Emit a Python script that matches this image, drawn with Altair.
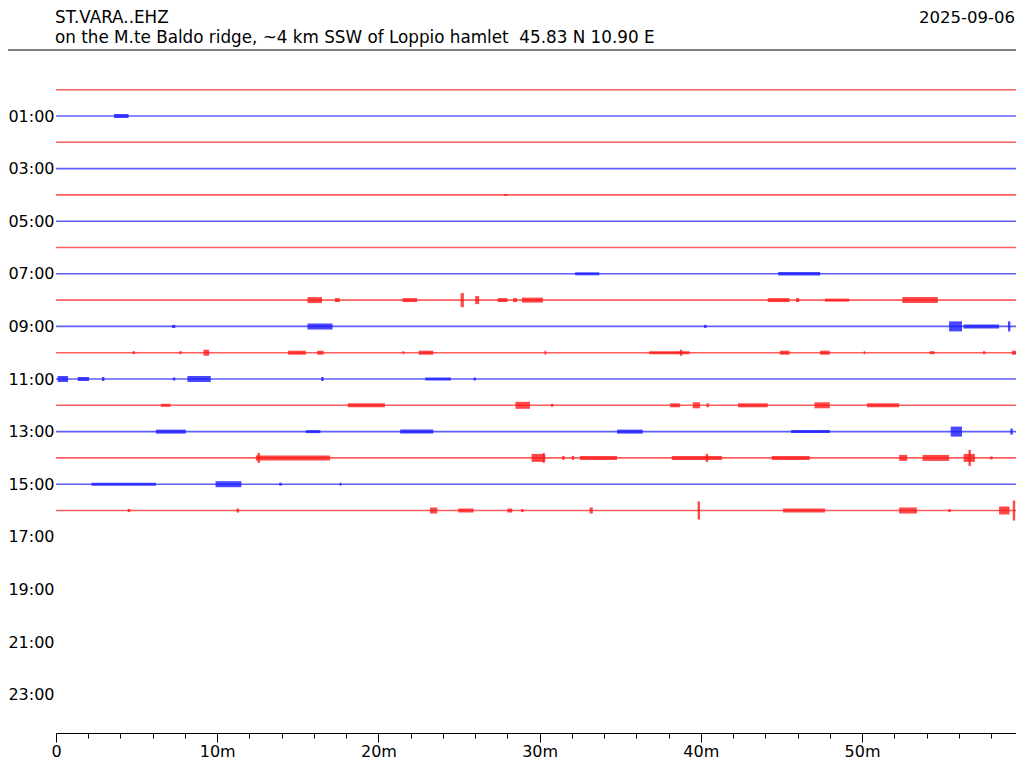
import altair as alt
import pandas as pd

# ---- texts ----
station = "ST.VARA..EHZ"
location = "on the M.te Baldo ridge, ~4 km SSW of Loppio hamlet \u00a045.83 N 10.90 E"
date_label = "2025-09-06"

# ---- axes ----
trace_hours = list(range(17))               # rows 00:00 .. 16:00 carry data
y_label_hours = list(range(1, 24, 2))       # 01:00, 03:00, ... 23:00
x_ticks = list(range(0, 60, 2))             # minor ticks every 2 min, labels every 10

# ---- bursts: (start minute, end minute, half amplitude) ----
row01 = [(3.6, 4.5, 2)]
row04 = [(27.8, 28.0, 1)]
row07 = [(32.2, 33.7, 1.5), (44.8, 47.4, 1.8)]
row08 = [(15.6, 16.5, 3), (17.3, 17.6, 2), (21.5, 22.4, 2), (25.1, 25.3, 7),
         (26.0, 26.25, 4), (27.4, 28.0, 2), (28.35, 28.6, 2), (28.9, 30.2, 2.5),
         (44.15, 45.5, 2), (45.9, 46.1, 2), (47.7, 49.2, 1.5), (52.5, 54.7, 3)]
row09 = [(7.2, 7.4, 1.5), (15.6, 17.15, 3), (40.2, 40.35, 1.5), (55.4, 56.2, 5),
         (56.3, 58.5, 2), (59.05, 59.2, 5)]
row10 = [(4.75, 4.9, 1.5), (7.65, 7.8, 1.5), (9.15, 9.5, 3), (14.4, 15.5, 2),
         (16.2, 16.6, 2), (21.5, 21.6, 1.5), (22.5, 23.4, 2), (30.3, 30.4, 2),
         (36.8, 39.3, 1.5), (38.7, 38.85, 3), (44.9, 45.5, 2), (47.4, 48.0, 2),
         (50.1, 50.2, 1.5), (54.2, 54.5, 1.5), (57.5, 57.65, 1.5), (59.3, 59.55, 2)]
row11 = [(0.1, 0.75, 3), (1.35, 2.05, 2), (2.85, 3.0, 2), (7.25, 7.4, 1.5),
         (8.15, 9.6, 3), (16.45, 16.6, 2), (22.9, 24.5, 1.5), (25.9, 26.05, 1.5)]
row12 = [(6.5, 7.1, 1.5), (18.1, 20.4, 2), (28.5, 29.4, 3.5), (30.7, 30.85, 1.5),
         (38.1, 38.7, 2), (39.5, 39.95, 3), (40.35, 40.5, 2), (42.3, 44.15, 2),
         (47.05, 48.0, 3), (50.3, 52.3, 2)]
row13 = [(6.2, 8.05, 2), (15.5, 16.4, 1.5), (21.35, 23.4, 2), (34.8, 36.4, 2),
         (45.6, 48.0, 1.5), (55.5, 56.2, 5), (59.2, 59.35, 3)]
row14 = [(12.4, 17.0, 2.5), (12.5, 12.65, 5), (29.5, 30.35, 4), (30.2, 30.3, 5),
         (31.4, 31.55, 2), (32.0, 32.15, 2), (32.5, 34.8, 2), (38.2, 41.3, 2),
         (40.3, 40.45, 4), (44.4, 46.75, 2), (52.3, 52.8, 3), (53.75, 55.4, 3),
         (56.3, 57.0, 4), (56.6, 56.75, 8), (57.95, 58.1, 1.5)]
row15 = [(2.2, 6.2, 1.5), (9.9, 11.5, 3), (13.85, 14.0, 1.5), (17.6, 17.7, 1.5)]
row16 = [(4.45, 4.6, 1.5), (11.2, 11.35, 2), (23.2, 23.65, 3), (24.95, 25.9, 2),
         (28.0, 28.3, 2), (28.85, 29.0, 1.5), (33.1, 33.3, 3), (39.8, 39.95, 9),
         (45.1, 47.7, 2), (52.3, 53.4, 3), (55.35, 55.5, 1.5), (58.5, 59.15, 4),
         (59.35, 59.5, 10)]

rows = {1: row01, 4: row04, 7: row07, 8: row08, 9: row09, 10: row10, 11: row11,
        12: row12, 13: row13, 14: row14, 15: row15, 16: row16}

ROW_UNITS = 26.3  # amplitude units per hour-row
X_END = 59.55     # visible end of the time axis (minutes)

base_df = pd.DataFrame({
    "hour": trace_hours,
    "t0": [0.0] * len(trace_hours),
    "t1": [X_END] * len(trace_hours),
    "parity": ["even" if h % 2 == 0 else "odd" for h in trace_hours],
})

recs = []
for h, evs in rows.items():
    for (a, b, amp) in evs:
        recs.append({"hour": h, "t0": a, "t1": b,
                     "ylo": h - amp / ROW_UNITS, "yhi": h + amp / ROW_UNITS,
                     "parity": "even" if h % 2 == 0 else "odd"})
burst_df = pd.DataFrame(recs)

FONT = "DejaVu Sans"
W, H = 960, 683
PAD_L, PAD_T, PAD_B = 48, 42, 27

xscale = alt.Scale(domain=[0, X_END], nice=False, zero=False)
yscale = alt.Scale(domain=[-1.51, 24.46], nice=False, zero=False, reverse=True)
cscale = alt.Scale(domain=["even", "odd"], range=["#ff1a1a", "#1a1aff"])

xaxis = alt.Axis(
    values=x_ticks, title=None, grid=False,
    labelExpr="datum.value % 10 === 0 ? (datum.value === 0 ? '0' : datum.value + 'm') : ''",
    labelOverlap=False, labelFont=FONT, labelFontSize=16, labelColor="black",
    labelPadding=1, labelFlush=False,
    tickSize={"condition": {"test": "datum.value % 10 === 0", "value": 9}, "value": 5},
    tickColor="black", tickWidth=1, domainColor="black", domainWidth=1,
)
yaxis = alt.Axis(
    values=y_label_hours, title=None, grid=False, ticks=False, domain=False,
    labelExpr="(datum.value < 10 ? '0' : '') + datum.value + ':00'",
    labelOverlap=False, labelFont=FONT, labelFontSize=16, labelColor="black",
    labelPadding=2, labelBaseline="middle",
)

base = alt.Chart(base_df).mark_rule(strokeWidth=1.6, opacity=0.7).encode(
    x=alt.X("t0:Q", scale=xscale, axis=xaxis),
    x2="t1:Q",
    y=alt.Y("hour:Q", scale=yscale, axis=yaxis),
    color=alt.Color("parity:N", scale=cscale, legend=None),
)

bursts = alt.Chart(burst_df).mark_rect(opacity=0.8).encode(
    x=alt.X("t0:Q", scale=xscale, axis=xaxis),
    x2="t1:Q",
    y=alt.Y("ylo:Q", scale=yscale, axis=yaxis),
    y2="yhi:Q",
    color=alt.Color("parity:N", scale=cscale, legend=None),
)

top_rule = alt.Chart(pd.DataFrame({"k": [0]})).mark_rule(color="black", strokeWidth=1).encode(
    x=alt.value(-PAD_L), x2=alt.value(W), y=alt.value(0)
)

t1 = alt.Chart(pd.DataFrame({"t": [station]})).mark_text(
    font=FONT, fontSize=16.8, align="left", baseline="alphabetic", color="black"
).encode(text="t:N", x=alt.value(-1), y=alt.value(-27))

t2 = alt.Chart(pd.DataFrame({"t": [location]})).mark_text(
    font=FONT, fontSize=16.8, align="left", baseline="alphabetic", color="black"
).encode(text="t:N", x=alt.value(-1), y=alt.value(-7))

t3 = alt.Chart(pd.DataFrame({"t": [date_label]})).mark_text(
    font=FONT, fontSize=16.5, align="right", baseline="alphabetic", color="black"
).encode(text="t:N", x=alt.value(W - 1), y=alt.value(-27))

chart = alt.layer(base, bursts, top_rule, t1, t2, t3).properties(
    width=W, height=H,
    background="white",
    autosize=alt.AutoSizeParams(type="none"),
    padding={"left": PAD_L, "top": PAD_T, "right": 0, "bottom": PAD_B},
).configure_view(stroke=None, strokeWidth=0).configure_axis(grid=False).configure_axisY(
    domain=False, ticks=False, grid=False
)

chart.save("out.html", embed_options={"renderer": "svg", "actions": False})
